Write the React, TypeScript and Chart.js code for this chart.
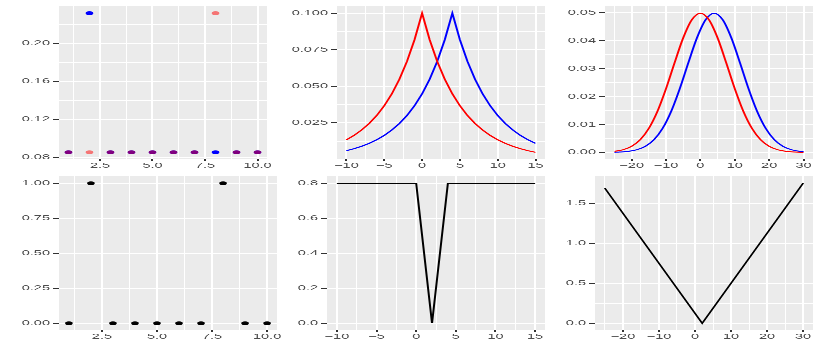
import React, { useEffect, useRef } from 'react';
import { Chart, registerables } from 'chart.js';

Chart.register(...registerables);

// ---------------- data ----------------
// Panel 1 (top-left): two point series
const P1_X = [1, 2, 3, 4, 5, 6, 7, 8, 9, 10];
const P1_RED = [0.085, 0.085, 0.085, 0.085, 0.085, 0.085, 0.085, 0.232, 0.085, 0.085];
const P1_BLUE = [0.085, 0.232, 0.085, 0.085, 0.085, 0.085, 0.085, 0.085, 0.085, 0.085];

// Panel 2 (top-middle): two peaked curves
const P2_X = [-10, -9, -8, -7, -6, -5, -4, -3, -2, -1, 0, 1, 2, 3, 4, 5, 6, 7, 8, 9, 10, 11, 12, 13, 14, 15];
const P2_RED = [0.01353, 0.01653, 0.02019, 0.02466, 0.03012, 0.03679, 0.04493, 0.05488, 0.06703, 0.08187, 0.1,
  0.08187, 0.06703, 0.05488, 0.04493, 0.03679, 0.03012, 0.02466, 0.02019, 0.01653, 0.01353, 0.01108, 0.00907,
  0.00743, 0.00608, 0.00498];
const P2_BLUE = [0.00608, 0.00743, 0.00907, 0.01108, 0.01353, 0.01653, 0.02019, 0.02466, 0.03012, 0.03679,
  0.04493, 0.05488, 0.06703, 0.08187, 0.1, 0.08187, 0.06703, 0.05488, 0.04493, 0.03679, 0.03012, 0.02466,
  0.02019, 0.01653, 0.01353, 0.01108];

// Panel 3 (top-right): two bell curves
const P3_RED_X = [-25, -22.5, -20, -17.5, -15, -12.5, -10, -7.5, -5, -2.5, 0, 2.5, 5, 7.5, 10, 12.5, 15, 17.5, 20,
  22.5, 25, 27.5, 30];
const P3_RED = [0.000378, 0.000955, 0.002191, 0.004558, 0.008598, 0.014712, 0.022831, 0.032134, 0.04102, 0.047492,
  0.049868, 0.047492, 0.04102, 0.032134, 0.022831, 0.014712, 0.008598, 0.004558, 0.002191, 0.000955, 0.000378,
  0.000135, 0.000044];
const P3_BLUE_X = [-25, -23.5, -21, -18.5, -16, -13.5, -11, -8.5, -6, -3.5, -1, 1.5, 4, 6.5, 9, 11.5, 14, 16.5, 19,
  21.5, 24, 26.5, 29, 30];
const P3_BLUE = [0.00007, 0.000135, 0.000378, 0.000955, 0.002191, 0.004558, 0.008598, 0.014712, 0.022831, 0.032134,
  0.04102, 0.047492, 0.049868, 0.047492, 0.04102, 0.032134, 0.022831, 0.014712, 0.008598, 0.004558, 0.002191,
  0.000955, 0.000378, 0.000254];

// Panel 4 (bottom-left): 0/1 points
const P4_X = [1, 2, 3, 4, 5, 6, 7, 8, 9, 10];
const P4_Y = [0, 1, 0, 0, 0, 0, 0, 1, 0, 0];

// Panel 5 (bottom-middle): notch line
const P5_X = [-10, 0, 2, 4, 15];
const P5_Y = [0.8, 0.8, 0, 0.8, 0.8];

// Panel 6 (bottom-right): V line
const P6_X = [-25, 2, 30];
const P6_Y = [1.6875, 0, 1.75];

// tick labels
const X_TICKS_1_10 = [2.5, 5, 7.5, 10];
const X_LABELS_1_10 = ['2.5', '5.0', '7.5', '10.0'];
const X_MINOR_1_10 = [1.25, 3.75, 6.25, 8.75];

const X_TICKS_M10_15 = [-10, -5, 0, 5, 10, 15];
const X_LABELS_M10_15 = ['\u221210', '\u22125', '0', '5', '10', '15'];
const X_MINOR_M10_15 = [-7.5, -2.5, 2.5, 7.5, 12.5];

const X_TICKS_M25_30 = [-20, -10, 0, 10, 20, 30];
const X_LABELS_M25_30 = ['\u221220', '\u221210', '0', '10', '20', '30'];
const X_MINOR_M25_30 = [-25, -15, -5, 5, 15, 25];

const P1_Y_TICKS = [0.08, 0.12, 0.16, 0.2];
const P1_Y_LABELS = ['0.08', '0.12', '0.16', '0.20'];
const P1_Y_MINOR = [0.1, 0.14, 0.18, 0.22];

const P2_Y_TICKS = [0.025, 0.05, 0.075, 0.1];
const P2_Y_LABELS = ['0.025', '0.050', '0.075', '0.100'];
const P2_Y_MINOR = [0.0125, 0.0375, 0.0625, 0.0875];

const P3_Y_TICKS = [0, 0.01, 0.02, 0.03, 0.04, 0.05];
const P3_Y_LABELS = ['0.00', '0.01', '0.02', '0.03', '0.04', '0.05'];
const P3_Y_MINOR = [0.005, 0.015, 0.025, 0.035, 0.045];

const P4_Y_TICKS = [0, 0.25, 0.5, 0.75, 1];
const P4_Y_LABELS = ['0.00', '0.25', '0.50', '0.75', '1.00'];
const P4_Y_MINOR = [0.125, 0.375, 0.625, 0.875];

const P5_Y_TICKS = [0, 0.2, 0.4, 0.6, 0.8];
const P5_Y_LABELS = ['0.0', '0.2', '0.4', '0.6', '0.8'];
const P5_Y_MINOR = [0.1, 0.3, 0.5, 0.7];

const P6_Y_TICKS = [0, 0.5, 1, 1.5];
const P6_Y_LABELS = ['0.0', '0.5', '1.0', '1.5'];
const P6_Y_MINOR = [0.25, 0.75, 1.25, 1.75];

// ---------------- styling ----------------
const FONT = { family: "'Liberation Sans', Arial, Helvetica, sans-serif", size: 14.5 };
const TEXT = '#4D4D4D';
const PANEL_BG = '#EBEBEB';
const RED = '#FF0000';
const RED_ALPHA = 'rgba(255,0,0,0.5)';
const BLUE = '#0000FF';
const YW = 56;
const PADT = 14;
const PADR = 26;
const XH = 34;

type TickDef = { value: number; lbl: string };

function tickList(majors: number[], labels: string[], minors: number[]): TickDef[] {
  const list: TickDef[] = majors.map((v, i) => ({ value: v, lbl: labels[i] }))
    .concat(minors.map((v) => ({ value: v, lbl: '' })));
  list.sort((a, b) => a.value - b.value);
  return list;
}

function expand(...arrays: number[][]) {
  const all = ([] as number[]).concat(...arrays);
  const lo = Math.min(...all);
  const hi = Math.max(...all);
  const pad = (hi - lo) * 0.05;
  return { min: lo - pad, max: hi + pad };
}

function pts(xs: number[], ys: number[]) {
  return xs.map((x, i) => ({ x, y: ys[i] }));
}

function axisOpts(range: { min: number; max: number }, ticks: TickDef[], isX: boolean) {
  return {
    type: 'linear',
    min: range.min,
    max: range.max,
    border: { display: false },
    grid: {
      color: '#FFFFFF',
      lineWidth: (c: any) => (c.tick && c.tick.lbl ? 2 : 1),
      drawTicks: true,
      tickLength: isX ? 4 : 6,
      tickWidth: 2,
      tickColor: (c: any) => (c.tick && c.tick.lbl ? '#333333' : 'rgba(0,0,0,0)'),
    },
    ticks: {
      autoSkip: false,
      maxRotation: 0,
      minRotation: 0,
      padding: isX ? 0 : 3,
      color: TEXT,
      font: FONT,
      callback: (_v: any, i: number, arr: any[]) => (arr[i] && arr[i].lbl ? arr[i].lbl : ''),
    },
    afterBuildTicks: (scale: any) => {
      scale.ticks = ticks.map((t) => ({ value: t.value, lbl: t.lbl }));
    },
    afterFit: (scale: any) => {
      if (isX) scale.height = XH;
      else scale.width = YW;
    },
  };
}

const bgPlugin = {
  id: 'panelBg',
  beforeDraw(chart: any) {
    const a = chart.chartArea;
    const ctx = chart.ctx;
    ctx.save();
    ctx.fillStyle = PANEL_BG;
    ctx.fillRect(a.left, a.top, a.right - a.left, a.bottom - a.top);
    ctx.restore();
  },
};

function pointSet(xs: number[], ys: number[], color: string) {
  return {
    data: pts(xs, ys),
    backgroundColor: color,
    borderWidth: 0,
    pointRadius: 3.8,
    pointBorderWidth: 0,
    showLine: false,
  };
}

function lineSet(xs: number[], ys: number[], color: string, smooth = false) {
  return {
    data: pts(xs, ys),
    borderColor: color,
    backgroundColor: color,
    borderWidth: 2,
    pointRadius: 0,
    showLine: true,
    fill: false,
    tension: 0,
    cubicInterpolationMode: smooth ? 'monotone' : 'default',
  };
}

type Rect = { l: number; r: number; t: number; b: number };
type Spec = {
  rect: Rect;
  build: () => any[];
  xTicks: TickDef[];
  yTicks: TickDef[];
  xRange: { min: number; max: number };
  yRange: { min: number; max: number };
};

// plot rectangles: x in final pixels, y in unsquashed (2x) pixels
const SPECS: Spec[] = [
  {
    rect: { l: 59, r: 267, t: 12, b: 318 },
    build: () => [pointSet(P1_X, P1_RED, RED_ALPHA), pointSet(P1_X, P1_BLUE, BLUE)],
    xTicks: tickList(X_TICKS_1_10, X_LABELS_1_10, X_MINOR_1_10),
    yTicks: tickList(P1_Y_TICKS, P1_Y_LABELS, P1_Y_MINOR),
    xRange: expand(P1_X),
    yRange: expand(P1_RED, P1_BLUE),
  },
  {
    rect: { l: 337, r: 545, t: 12, b: 318 },
    build: () => [lineSet(P2_X, P2_RED, RED), lineSet(P2_X, P2_BLUE, BLUE)],
    xTicks: tickList(X_TICKS_M10_15, X_LABELS_M10_15, X_MINOR_M10_15),
    yTicks: tickList(P2_Y_TICKS, P2_Y_LABELS, P2_Y_MINOR),
    xRange: expand(P2_X),
    yRange: expand(P2_RED, P2_BLUE),
  },
  {
    rect: { l: 605, r: 813, t: 12, b: 318 },
    build: () => [lineSet(P3_RED_X, P3_RED, RED, true), lineSet(P3_BLUE_X, P3_BLUE, BLUE, true)],
    xTicks: tickList(X_TICKS_M25_30, X_LABELS_M25_30, X_MINOR_M25_30),
    yTicks: tickList(P3_Y_TICKS, P3_Y_LABELS, P3_Y_MINOR),
    xRange: expand(P3_RED_X, P3_BLUE_X),
    yRange: expand(P3_RED, P3_BLUE),
  },
  {
    rect: { l: 59, r: 277, t: 352, b: 660 },
    build: () => [pointSet(P4_X, P4_Y, '#000000')],
    xTicks: tickList(X_TICKS_1_10, X_LABELS_1_10, X_MINOR_1_10),
    yTicks: tickList(P4_Y_TICKS, P4_Y_LABELS, P4_Y_MINOR),
    xRange: expand(P4_X),
    yRange: expand(P4_Y),
  },
  {
    rect: { l: 327, r: 545, t: 352, b: 660 },
    build: () => [lineSet(P5_X, P5_Y, '#000000')],
    xTicks: tickList(X_TICKS_M10_15, X_LABELS_M10_15, X_MINOR_M10_15),
    yTicks: tickList(P5_Y_TICKS, P5_Y_LABELS, P5_Y_MINOR),
    xRange: expand(P5_X),
    yRange: expand(P5_Y),
  },
  {
    rect: { l: 595, r: 813, t: 352, b: 660 },
    build: () => [lineSet(P6_X, P6_Y, '#000000')],
    xTicks: tickList(X_TICKS_M25_30, X_LABELS_M25_30, X_MINOR_M25_30),
    yTicks: tickList(P6_Y_TICKS, P6_Y_LABELS, P6_Y_MINOR),
    xRange: expand(P6_X),
    yRange: expand(P6_Y),
  },
];

function Panel({ spec }: { spec: Spec }) {
  const ref = useRef<HTMLCanvasElement | null>(null);
  const { l, r, t, b } = spec.rect;
  const w = YW + (r - l) + PADR;
  const h = PADT + (b - t) + XH;
  useEffect(() => {
    if (!ref.current) return;
    const chart = new Chart(ref.current, {
      type: 'scatter',
      data: { datasets: spec.build() },
      options: {
        responsive: false,
        animation: false,
        devicePixelRatio: 1,
        events: [],
        layout: { padding: { top: PADT, right: PADR, left: 0, bottom: 0 } },
        plugins: { legend: { display: false }, tooltip: { enabled: false } },
        scales: {
          x: axisOpts(spec.xRange, spec.xTicks, true),
          y: axisOpts(spec.yRange, spec.yTicks, false),
        },
      } as any,
      plugins: [bgPlugin],
    });
    return () => chart.destroy();
  }, [spec]);
  return (
    <canvas
      ref={ref}
      width={w}
      height={h}
      style={{ position: 'absolute', left: l - YW, top: t - PADT }}
    />
  );
}

export default function App() {
  useEffect(() => {
    document.body.style.margin = '0';
    document.body.style.overflow = 'hidden';
    document.body.style.background = '#FFFFFF';
  }, []);
  return (
    <div
      style={{
        position: 'absolute',
        left: 0,
        top: 0,
        width: 830,
        height: 690,
        transform: 'scaleY(0.5)',
        transformOrigin: '0 0',
        background: '#FFFFFF',
        overflow: 'hidden',
      }}
    >
      {SPECS.map((s, i) => (
        <Panel key={i} spec={s} />
      ))}
    </div>
  );
}
